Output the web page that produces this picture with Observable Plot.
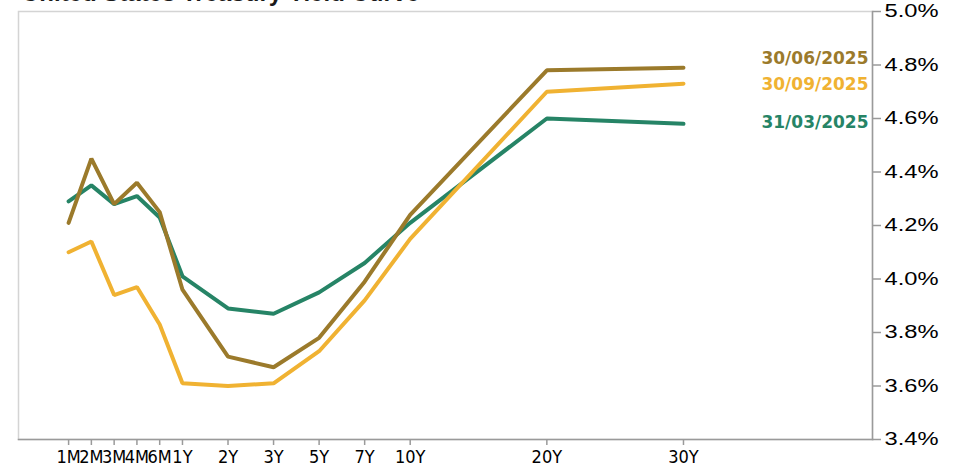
<!DOCTYPE html>
<html>
<head>
<meta charset="utf-8">
<script src="https://cdn.jsdelivr.net/npm/d3@7"></script>
<script src="https://cdn.jsdelivr.net/npm/@observablehq/plot@0.6"></script>
<style>
  html, body { margin: 0; padding: 0; background: #fff; overflow: hidden; }
  #wrap { position: relative; width: 955px; height: 467px; }
  #title { position: absolute; left: 22px; top: -21px; font: bold 24px "Liberation Sans", Arial, sans-serif; color: #1a1a1a; white-space: nowrap; }
  #chart { position: absolute; left: 0; top: 0; }
</style>
</head>
<body>
<div id="wrap">
  <div id="chart"></div>
  <div id="title">United States Treasury Yield Curve</div>
</div>
<script>
// Tenor categories and their slot on the original chart's x axis
const tenors = ["1M","2M","3M","4M","6M","1Y","2Y","3Y","5Y","7Y","10Y","20Y","30Y"];
const tenorSlot = [0,1,2,3,4,5,7,9,11,13,15,21,27];

// Series (yield, %)
const seriesNames = ["31/03/2025","30/09/2025","30/06/2025"];
const yieldsMar = [4.29,4.35,4.28,4.31,4.23,4.01,3.89,3.87,3.95,4.06,4.21,4.60,4.58];
const yieldsSep = [4.10,4.14,3.94,3.97,3.83,3.61,3.60,3.61,3.73,3.92,4.15,4.70,4.73];
const yieldsJun = [4.21,4.45,4.28,4.36,4.25,3.96,3.71,3.67,3.78,3.99,4.24,4.78,4.79];
const seriesColors = ["#268466","#f0b232","#9b7a2b"];
const labelNudge = [-1, 1, -9];

// Y tick values
const yTicks = [3.4,3.6,3.8,4.0,4.2,4.4,4.6,4.8,5.0];

const seriesValues = [yieldsMar, yieldsSep, yieldsJun];
const rows = seriesNames.flatMap((s, i) =>
  tenors.map((t, j) => ({series: s, tenor: t, slot: tenorSlot[j], value: seriesValues[i][j]})));

const marks = [
  Plot.frame({stroke: "#d4d4d4", strokeWidth: 1.5}),
  Plot.frame({anchor: "bottom", stroke: "#9a9a9a", strokeWidth: 1.5}),
  Plot.frame({anchor: "right", stroke: "#9a9a9a", strokeWidth: 1.5}),
  Plot.axisY(yTicks, {anchor: "right", label: null, tickSize: 8, tickPadding: 4, stroke: "#9a9a9a", strokeWidth: 1.5,
    fill: "#000", fontSize: 18, tickFormat: d => d.toFixed(1) + "%"}),
  Plot.axisX(tenorSlot, {anchor: "bottom", label: null, tickSize: 6, tickPadding: 5, stroke: "#9a9a9a", strokeWidth: 1.5,
    fill: "#000", fontSize: 17, tickFormat: (d, i) => tenors[i]})
];
seriesNames.forEach((s, i) => {
  marks.push(Plot.line(rows.filter(r => r.series === s),
    {x: "slot", y: "value", stroke: seriesColors[i], strokeWidth: 4, strokeLinejoin: "miter", strokeLinecap: "round"}));
});
seriesNames.forEach((s, i) => {
  const last = rows.filter(r => r.series === s).at(-1);
  marks.push(Plot.text([last], {y: "value", frameAnchor: "right", text: d => d.series, textAnchor: "end",
    dx: -4, dy: labelNudge[i], fill: seriesColors[i], fontSize: 17, fontWeight: "bold",
    fontFamily: "DejaVu Sans"}));
});

const chart = Plot.plot({
  width: 955,
  height: 467,
  marginLeft: 18,
  marginRight: 83,
  marginTop: 11,
  marginBottom: 28,
  style: {fontFamily: "'Liberation Sans', Arial, sans-serif", background: "#fff", overflow: "visible"},
  x: {domain: [-2.2, 35.3], axis: null},
  y: {domain: [3.4, 5.0], axis: null},
  marks
});
document.getElementById("chart").appendChild(chart);

// Match the wide look of the original's y labels and the condensed x labels
d3.select(chart).selectAll('[aria-label="y-axis tick label"] text')
  .attr("textLength", 54).attr("lengthAdjust", "spacingAndGlyphs");
d3.select(chart).selectAll('[aria-label="x-axis tick label"] text')
  .attr("font-family", "'Liberation Sans Narrow', 'DejaVu Sans Condensed', sans-serif").attr("font-size", 18);
</script>
</body>
</html>
